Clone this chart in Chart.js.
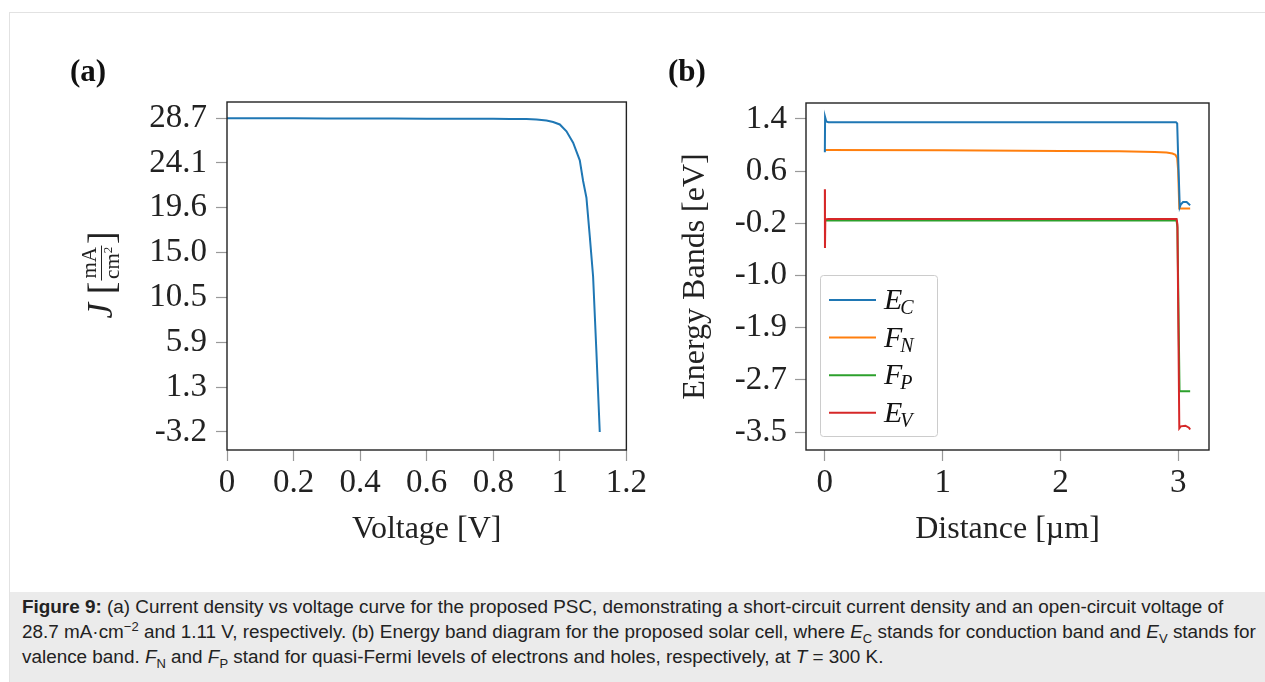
<!DOCTYPE html>
<html>
<head>
<meta charset="utf-8">
<script src="https://cdn.jsdelivr.net/npm/chart.js@4.4.1/dist/chart.umd.min.js"></script>
<style>
  body { margin: 0; width: 1265px; height: 682px; overflow: hidden; background: #fff; position: relative; font-family: 'Liberation Serif', serif; color: #222; }
  #frame { position: absolute; left: 9px; top: 12px; width: 1270px; height: 700px; border: 1px solid #e2e2e2; box-sizing: border-box; }
  #caption { position: absolute; left: 10px; top: 592px; width: 1260px; height: 100px; background: #ebebeb; }
  #caption p { margin: 0; position: absolute; left: 12px; top: 2px; font: 18.9px/25px 'Liberation Sans', Arial, sans-serif; color: #222; white-space: nowrap; }
  #caption sub, #caption sup { font-size: 13px; line-height: 0; }
  canvas { position: absolute; top: 0; }
  #chartA { left: 0; }
  #chartB { left: 650px; }
  .panel { position: absolute; top: 55px; font: bold 31px/31px 'Liberation Serif', serif; color: #111; }
  #ytitleA { position: absolute; left: 101px; top: 275px; transform: translate(-50%, -50%) rotate(-90deg);
             white-space: nowrap; font-size: 35px; display: flex; align-items: center; color: #222; }
  #ytitleA .br { font-size: 38px; }
  #ytitleA .frac { display: inline-flex; flex-direction: column; align-items: center; font-size: 21px; line-height: 1; margin: 0 1px; }
  #ytitleA .num { border-bottom: 1.4px solid #222; padding: 0 2px 1px; }
  #ytitleA sup { font-size: 13px; vertical-align: 7px; line-height: 0; }
</style>
</head>
<body>
<div id="frame"></div>
<canvas id="chartA" width="650" height="590"></canvas>
<canvas id="chartB" width="615" height="590"></canvas>
<div class="panel" style="left:70px">(a)</div>
<div class="panel" style="left:668px">(b)</div>
<div id="ytitleA"><i>J</i>&nbsp;<span class="br">[</span><span class="frac"><span class="num">mA</span><span>cm<sup>2</sup></span></span><span class="br">]</span></div>
<div id="caption"><p><b>Figure 9:</b> (a) Current density vs voltage curve for the proposed PSC, demonstrating a short-circuit current density and an open-circuit voltage of<br>28.7 mA·cm<sup>−2</sup> and 1.11 V, respectively. (b) Energy band diagram for the proposed solar cell, where <i>E</i><sub>C</sub> stands for conduction band and <i>E</i><sub>V</sub> stands for<br>valence band. <i>F</i><sub>N</sub> and <i>F</i><sub>P</sub> stand for quasi-Fermi levels of electrons and holes, respectively, at <i>T</i> = 300 K.</p></div>
<script>
// (a) J-V curve
const voltage = [0, 0.1, 0.2, 0.3, 0.4, 0.5, 0.6, 0.7, 0.8, 0.85, 0.9, 0.93, 0.96, 0.98, 1.0, 1.02, 1.04, 1.06, 1.07, 1.08, 1.09, 1.1, 1.11, 1.12];
const current = [28.68, 28.68, 28.67, 28.66, 28.66, 28.65, 28.64, 28.63, 28.62, 28.61, 28.6, 28.56, 28.45, 28.3, 28.05, 27.35, 26.2, 24.4, 22.3, 20.6, 16.7, 12.6, 4.9, -3.2];
const voltTicks = [0, 0.2, 0.4, 0.6, 0.8, 1, 1.2];
const jTickValues = [28.7, 24.14, 19.59, 15.03, 10.47, 5.91, 1.36, -3.2];
const jTickLabels = ['28.7', '24.1', '19.6', '15.0', '10.5', '5.9', '1.3', '-3.2'];

// (b) band diagram
const distEC = [0, 0.002, 0.012, 0.03, 1.0, 2.0, 2.98, 2.99, 3.0, 3.012, 3.02, 3.04, 3.07, 3.1];
const bandEC = [0.88, 1.43, 1.36, 1.35, 1.35, 1.35, 1.35, 1.33, 0.7, 0.02, 0.06, 0.1, 0.1, 0.05];
const distFN = [0, 1.0, 2.0, 2.5, 2.8, 2.9, 2.95, 2.975, 2.99, 2.998, 3.008, 3.1];
const bandFN = [0.915, 0.91, 0.9, 0.895, 0.885, 0.875, 0.86, 0.84, 0.79, 0.6, 0.0, 0.0];
const distFP = [0.003, 1.0, 2.0, 2.985, 2.992, 3.01, 3.1];
const bandFP = [-0.19, -0.19, -0.19, -0.19, -0.3, -2.86, -2.86];
const distEV = [0, 0.001, 0.004, 0.03, 1.0, 2.0, 2.985, 2.992, 3.008, 3.02, 3.06, 3.09, 3.1];
const bandEV = [0.3, -0.62, -0.17, -0.165, -0.165, -0.165, -0.165, -0.25, -3.44, -3.41, -3.4, -3.43, -3.46];
const distTicks = [0, 1, 2, 3];
const eTickValues = [1.4, 0.583, -0.233, -1.05, -1.867, -2.683, -3.5];
const eTickLabels = ['1.4', '0.6', '-0.2', '-1.0', '-1.9', '-2.7', '-3.5'];

const bandNames = ['E', 'F', 'F', 'E'];
const bandSubs = ['C', 'N', 'P', 'V'];
const bandColors = ['#1f77b4', '#ff7f0e', '#2ca02c', '#d62728'];

Chart.defaults.font.family = "'Liberation Serif', 'Times New Roman', serif";
Chart.defaults.color = '#222';
Chart.defaults.animation = false;

const zip = (xs, ys) => xs.map((x, i) => ({ x: x, y: ys[i] }));

// рамка вокруг области графика
const frame = {
  id: 'frame',
  afterDraw(chart) {
    const { ctx, chartArea: a } = chart;
    ctx.save();
    ctx.strokeStyle = '#222';
    ctx.lineWidth = 1.4;
    ctx.strokeRect(a.left, a.top, a.right - a.left, a.bottom - a.top);
    ctx.restore();
  }
};

// легенда с подстрочными индексами
const bandLegend = {
  id: 'bandLegend',
  afterDatasetsDraw(chart) {
    const { ctx, chartArea: a } = chart;
    const w = 117, h = 161;
    const x0 = a.left + 14, y0 = a.bottom - 14 - h;
    ctx.save();
    ctx.fillStyle = 'rgba(255,255,255,0.9)';
    ctx.strokeStyle = '#cccccc';
    ctx.lineWidth = 1;
    ctx.beginPath();
    ctx.roundRect(x0 + 0.5, y0 + 0.5, w, h, 3);
    ctx.fill();
    ctx.stroke();
    bandNames.forEach((name, i) => {
      const y = y0 + 25 + i * 37.6;
      ctx.strokeStyle = bandColors[i];
      ctx.lineWidth = 2;
      ctx.beginPath();
      ctx.moveTo(x0 + 9, y);
      ctx.lineTo(x0 + 56, y);
      ctx.stroke();
      ctx.fillStyle = '#111';
      ctx.textBaseline = 'alphabetic';
      ctx.font = "italic 30px 'Liberation Serif'";
      ctx.fillText(name, x0 + 64, y + 9);
      const wm = ctx.measureText(name).width;
      ctx.font = "italic 20px 'Liberation Serif'";
      ctx.fillText(bandSubs[i], x0 + 62 + wm, y + 14);
    });
    ctx.restore();
  }
};

const tickFont = { size: 33 };
const titleFont = { size: 32 };
const gridStyle = { display: true, drawOnChartArea: false, drawTicks: true, tickLength: 11, tickColor: '#999', tickWidth: 1.2 };

new Chart(document.getElementById('chartA'), {
  type: 'line',
  data: {
    datasets: [{
      data: zip(voltage, current),
      borderColor: '#1f77b4',
      borderWidth: 2,
      pointRadius: 0,
      tension: 0
    }]
  },
  options: {
    responsive: false,
    parsing: false,
    layout: { padding: { left: 107, top: 102, right: 21, bottom: 30 } },
    plugins: { legend: { display: false }, tooltip: { enabled: false } },
    scales: {
      x: {
        type: 'linear', min: 0, max: 1.2,
        afterBuildTicks: s => { s.ticks = voltTicks.map(v => ({ value: v })); },
        afterFit: s => { s.height = 110; },
        ticks: { font: tickFont, padding: 3, maxRotation: 0, callback: v => String(v) },
        grid: gridStyle,
        border: { display: false },
        title: { display: true, text: 'Voltage [V]', font: titleFont, padding: { top: 0, bottom: 11 } }
      },
      y: {
        type: 'linear', min: -5.03, max: 30.33,
        afterBuildTicks: s => { s.ticks = jTickValues.map(v => ({ value: v })); },
        afterFit: s => { s.width = 120; },
        ticks: { font: tickFont, padding: 9, callback: (v, i) => jTickLabels[i] },
        grid: gridStyle,
        border: { display: false }
      }
    }
  },
  plugins: [frame]
});

new Chart(document.getElementById('chartB'), {
  type: 'line',
  data: {
    datasets: [
      { label: 'EC', data: zip(distEC, bandEC), borderColor: bandColors[0], order: 1 },
      { label: 'FN', data: zip(distFN, bandFN), borderColor: bandColors[1], order: 2 },
      { label: 'FP', data: zip(distFP, bandFP), borderColor: bandColors[2], order: 3 },
      { label: 'EV', data: zip(distEV, bandEV), borderColor: bandColors[3], order: 0 }
    ].map(d => Object.assign(d, { borderWidth: 2, pointRadius: 0, tension: 0 }))
  },
  options: {
    responsive: false,
    parsing: false,
    layout: { padding: { left: 26, top: 103, right: 56, bottom: 30 } },
    plugins: { legend: { display: false }, tooltip: { enabled: false } },
    scales: {
      x: {
        type: 'linear', min: -0.16, max: 3.26,
        afterBuildTicks: s => { s.ticks = distTicks.map(v => ({ value: v })); },
        afterFit: s => { s.height = 110; },
        ticks: { font: tickFont, padding: 3, maxRotation: 0, callback: v => String(v) },
        grid: gridStyle,
        border: { display: false },
        title: { display: true, text: 'Distance [µm]', font: titleFont, padding: { top: 0, bottom: 11 } }
      },
      y: {
        type: 'linear', min: -3.78, max: 1.65,
        afterBuildTicks: s => { s.ticks = eTickValues.map(v => ({ value: v })); },
        afterFit: s => { s.width = 130; },
        ticks: { font: tickFont, padding: 8, callback: (v, i) => eTickLabels[i] },
        grid: gridStyle,
        border: { display: false },
        title: { display: true, text: 'Energy Bands [eV]', font: titleFont, padding: 0 }
      }
    }
  },
  plugins: [frame, bandLegend]
});
</script>
</body>
</html>
